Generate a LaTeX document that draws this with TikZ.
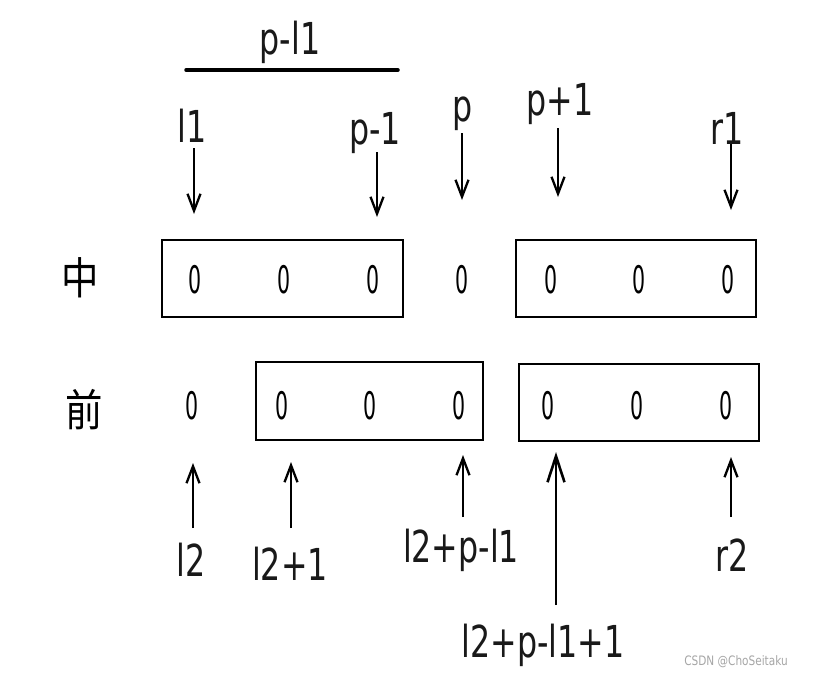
\documentclass[tikz,border=0pt]{standalone}
\usepackage{fontspec}
\setmainfont{DejaVu Sans Condensed}
\newfontfamily\cjk{Noto Sans CJK SC}[FakeStretch=0.85]
\usetikzlibrary{arrows.meta}
\tikzset{
  lbl/.style={font=\fontsize{44}{44}\selectfont\addfontfeatures{FakeStretch=0.8}, inner sep=0pt, text=black!90},
  zero/.style={font=\fontsize{38}{38}\selectfont\addfontfeatures{FakeStretch=0.6}, inner sep=0pt},
  cjklbl/.style={font=\cjk\fontsize{44}{44}\selectfont\addfontfeatures{FakeStretch=0.85}, inner sep=0pt},
  box/.style={draw, line width=2.5pt, inner sep=0pt},
  arr/.style={line width=2.3pt, -{Straight Barb[length=17pt,width=13pt,line width=2.3pt]}},
  bigarr/.style={line width=2.6pt, -{Straight Barb[length=26pt,width=17pt,line width=2.6pt]}},
}
\begin{document}
\begin{tikzpicture}[x=1pt,y=-1pt]
\useasboundingbox[fill=white] (0,0) rectangle (818,677);
% top span
\node[lbl] (span) at (290,42) {p-l1};
\coordinate (spanL) at (186,70);
\coordinate (spanR) at (398,70);
\draw[line width=3.5pt, line cap=round] (spanL) -- (spanR);
% top labels
\node[lbl] (l1) at (192,126) {l1};
\node[lbl] (pm1) at (375,133) {p-1};
\node[lbl] (p) at (463,114) {p};
\node[lbl] (pp1) at (560,104) {p+1};
\node[lbl] (r1) at (727,128) {r1};
\coordinate (a1s) at (194,148); \coordinate (a1e) at (194,214);
\coordinate (a2s) at (377,152); \coordinate (a2e) at (377,217);
\coordinate (a3s) at (462,133); \coordinate (a3e) at (462,200);
\coordinate (a4s) at (558,128); \coordinate (a4e) at (558,197);
\coordinate (a5s) at (731,144); \coordinate (a5e) at (731,210);
\draw[arr] (a1s) -- (a1e);
\draw[arr] (a2s) -- (a2e);
\draw[arr] (a3s) -- (a3e);
\draw[arr] (a4s) -- (a4e);
\draw[arr] (a5s) -- (a5e);
% row 1
\node[cjklbl] (zh) at (80,278) {中};
\node[box, minimum width=241pt, minimum height=77pt] (b1) at (282.5,278.5) {};
\node[box, minimum width=240pt, minimum height=77pt] (b2) at (636,278.5) {};
\node[zero] (z11) at (195,280) {0};
\node[zero] (z12) at (284,280) {0};
\node[zero] (z13) at (373,280) {0};
\node[zero] (z14) at (462,280) {0};
\node[zero] (z15) at (551,280) {0};
\node[zero] (z16) at (639,280) {0};
\node[zero] (z17) at (728,280) {0};
% row 2
\node[cjklbl] (qian) at (84,410) {前};
\node[box, minimum width=227pt, minimum height=78pt] (b3) at (369.5,401) {};
\node[box, minimum width=240pt, minimum height=77pt] (b4) at (639,402.5) {};
\node[zero] (z21) at (192,406) {0};
\node[zero] (z22) at (282,406) {0};
\node[zero] (z23) at (370,406) {0};
\node[zero] (z24) at (459,406) {0};
\node[zero] (z25) at (548,406) {0};
\node[zero] (z26) at (637,406) {0};
\node[zero] (z27) at (726,406) {0};
% bottom arrows
\coordinate (c1s) at (193,528); \coordinate (c1e) at (193,463);
\coordinate (c2s) at (291,528); \coordinate (c2e) at (291,462);
\coordinate (c3s) at (463,517); \coordinate (c3e) at (463,455);
\coordinate (c4s) at (556,605); \coordinate (c4e) at (556,452);
\coordinate (c5s) at (731,517); \coordinate (c5e) at (731,457);
\draw[arr] (c1s) -- (c1e);
\draw[arr] (c2s) -- (c2e);
\draw[arr] (c3s) -- (c3e);
\draw[bigarr] (c4s) -- (c4e);
\draw[arr] (c5s) -- (c5e);
\node[lbl] (l2) at (191,560) {l2};
\node[lbl] (l2p1) at (290,564) {l2+1};
\node[lbl] (l2pl) at (461,550) {l2+p-l1};
\node[lbl] (l2pl1) at (543,645) {l2+p-l1+1};
\node[lbl] (r2) at (732,555) {r2};
% watermark
\node[font=\fontsize{13}{13}\selectfont\addfontfeatures{FakeStretch=0.9}, text=black!35, inner sep=0pt] (wm) at (736,662) {CSDN @ChoSeitaku};
\end{tikzpicture}
\end{document}
